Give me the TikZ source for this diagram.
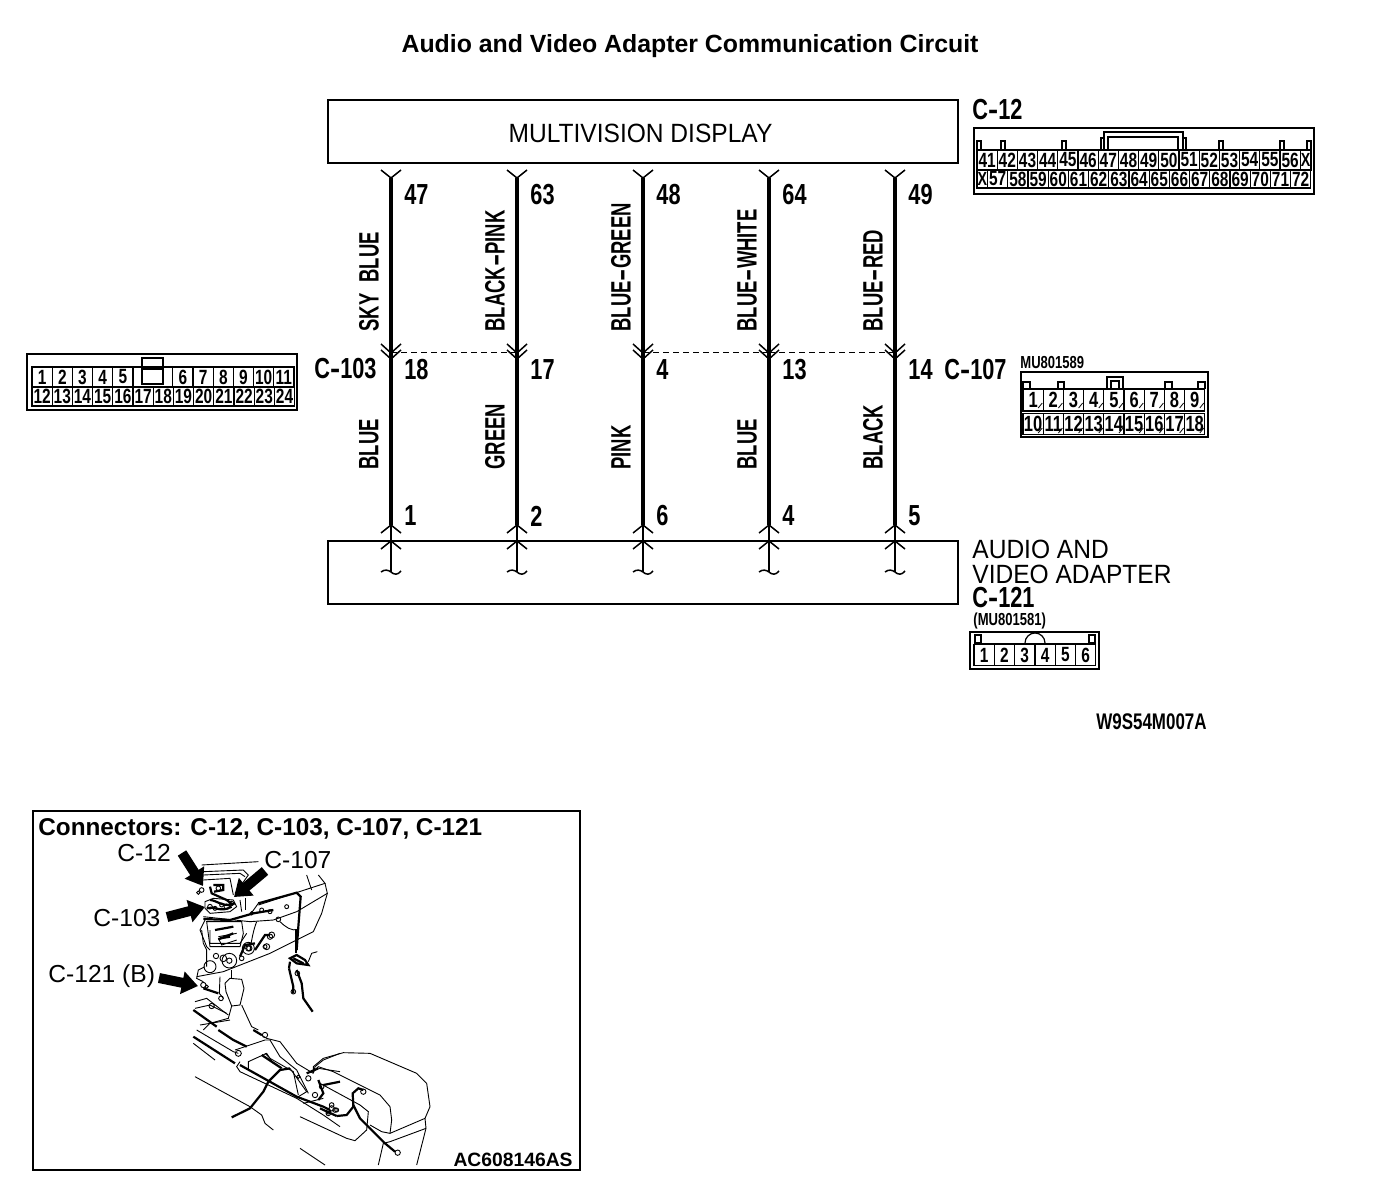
\documentclass[tikz,border=0pt]{standalone}
\usepackage{fontspec}
\usetikzlibrary{arrows.meta}
\setmainfont{Liberation Sans}
\newfontfamily\condb[FakeStretch=0.75]{Liberation Sans Bold}
\newfontfamily\condn[FakeStretch=0.66]{Liberation Sans Bold}
\newfontfamily\reg[FakeStretch=0.93]{Liberation Sans}
\newcommand{\dsh}{\scalebox{2}[1]{-}}
\newcommand{\cdsh}{\scalebox{1.4}[1]{-}}
\newcommand{\pinrow}[7]{% prefix, x0, ycentre, w, h, list, font
  \foreach \n [count=\i] in {#6}{
    \pgfmathsetmacro{\cx}{#2+(\i-0.5)*#4}
    \node[cellbox,minimum width=#4*0.5pt,minimum height=#5*0.5pt,font=#7] (#1-\n) at (\cx,#3) {\n};
  }}
\newcommand{\rings}[1]{\foreach \x/\y/\r in {#1}{\draw[art] (\x,\y) circle[radius=\r];}}
\tikzset{
  x=0.5pt,y=-0.5pt,
  cellbox/.style={draw,line width=.6pt,inner sep=0pt,outer sep=0pt},
  outerbox/.style={draw,line width=.8pt,inner sep=0pt,outer sep=0pt},
  unitbox/.style={draw,line width=1pt,inner sep=0pt,outer sep=0pt,minimum width=315pt,minimum height=31.5pt},
  wire/.style={line width=2pt},
  thin wire/.style={line width=.75pt},
  fork/.style={line width=.75pt},
  dashline/.style={line width=.4pt,dash pattern=on 3pt off 2pt},
  num/.style={anchor=west,inner sep=0pt,font=\condb\fontsize{14.5}{15}\selectfont},
  vlab/.style={anchor=west,rotate=90,inner sep=0pt,font=\condn\fontsize{14}{15}\selectfont},
  conn/.style={anchor=west,inner sep=0pt,font=\condb\fontsize{14.5}{15}\selectfont},
  tag/.style={anchor=west,inner sep=0pt,font=\condb\fontsize{8.7}{9}\selectfont},
  regl/.style={anchor=west,inner sep=0pt,font=\reg\fontsize{13.2}{14}\selectfont},
  ilab/.style={anchor=west,inner sep=0pt,font=\fontsize{12.3}{13}\selectfont},
  art/.style={line width=.45pt},
  artb/.style={line width=1.1pt},
  callout/.style={line width=5pt,-{Triangle[length=8pt,width=11pt]}},
}
\begin{document}
\begin{tikzpicture}
\useasboundingbox (0,0) rectangle (1376,1204);
\node[inner sep=0pt,font=\bfseries\fontsize{12.43}{13}\selectfont] (title) at (690,46) {Audio and Video Adapter Communication Circuit};
% Units
\node[unitbox] (display) at (643,131.5) {};
\node[inner sep=0pt,font=\reg\fontsize{13.2}{14}\selectfont] (displaytext) at (640.5,133) {MULTIVISION DISPLAY};
\node[unitbox] (adapter) at (643,572.5) {};
% Wires
\foreach \k/\x in {a/391,b/517,c/643,d/769,e/895}{
  \coordinate (\k top) at (\x,178);
  \coordinate (\k bot) at (\x,525);
  \coordinate (\k end) at (\x,572);
  \coordinate (\k mid) at (\x,352);
  \draw[wire] (\k top) -- (\k bot);
  \draw[thin wire] (\k bot) -- (\k end);
  \draw[fork] (\x-10,170) -- (\k top) -- (\x+10,170);
  \draw[fork] (\x-10,344) -- (\x,353) -- (\x+10,344);
  \draw[fork] (\x-10,350) -- (\x,359) -- (\x+10,350);
  \draw[fork] (\x-10,533) -- (\k bot) -- (\x+10,533);
  \draw[fork] (\x-10,549) -- (\x,541) -- (\x+10,549);
  \draw[fork] (\x-10,572) .. controls (\x-6,569) and (\x-3,570) .. (\k end) .. controls (\x+3,575) and (\x+7,575) .. (\x+10,571);
}
\draw[dashline] (amid) -- (bmid);
\draw[dashline] (cmid) -- (dmid);
\draw[dashline] (dmid) -- (emid);
% Pin numbers
\foreach \t/\x/\y in {47/404/195,63/530/195,48/656/195,64/782/195,49/908/195,
  18/404/370,17/530/370,4/656/370,13/782/370,14/908/370,
  1/404/516,2/530/516,6/656/516,4/782/516,5/908/516}{
  \node[num] (p\t-\x-\y) at (\x,\y) {\t};
}
% Wire colours
\foreach \t/\x/\y in {SKY\kern3pt{} BLUE/369/332,BLACK\dsh PINK/495/332,BLUE\dsh GREEN/621/332,BLUE\dsh WHITE/747/332,BLUE\dsh RED/873/332,
  BLUE/369/470,GREEN/495/470,PINK/621/470,BLUE/747/470,BLACK/873/470}{
  \node[vlab] (w\x-\y) at (\x,\y) {\t};
}
% Connector labels
\node[conn] (lc12) at (972,110) {C\cdsh 12};
\node[conn] (lc103) at (314,369) {C\cdsh 103};
\node[conn] (lc107) at (944,370) {C\cdsh 107};
\node[conn] (lc121) at (972,598) {C\cdsh 121};
\node[regl] (la1) at (972,549) {AUDIO AND};
\node[regl] (la2) at (972,574) {VIDEO ADAPTER};
\node[tag] (tmu1) at (1020,363) {MU801589};
\node[tag] (tmu2) at (973,621) {(MU801581)};
\node[anchor=west,inner sep=0pt,font=\condb\fontsize{11.3}{12}\selectfont] (wcode) at (1096,722) {W9S54M007A};
% C-12
\draw[outerbox] (974,128) rectangle (1314,194);
\pinrow{c12a}{977}{160}{20.2}{20}{41,42,43,44,45,46,47,48,49,50,51,52,53,54,55,56}{\condb\fontsize{10.3}{11}\selectfont}
\pinrow{c12b}{987.6}{179}{20.2}{18}{57,58,59,60,61,62,63,64,65,66,67,68,69,70,71,72}{\condb\fontsize{10.3}{11}\selectfont}
\node[cellbox,minimum width=5.4pt,minimum height=10pt,font=\condb\fontsize{9.5}{10}\selectfont] (c12x1) at (1305.6,160) {X};
\node[cellbox,minimum width=5.3pt,minimum height=9pt,font=\condb\fontsize{9.5}{10}\selectfont] (c12x2) at (982.3,179) {X};
\foreach \x in {977,1001,1062,1219,1280,1307}{\draw[cellbox] (\x,150) -- (\x,141) -- (\x+4,141) -- (\x+4,150);}
\draw[cellbox] (1104,150) -- (1104,132) -- (1183,132) -- (1183,150);
\draw[cellbox] (1108,150) -- (1108,137) -- (1178,137) -- (1178,150);
\draw[cellbox] (1101,150) -- (1101,138) -- (1104,138);
\draw[cellbox] (1183,138) -- (1186,138) -- (1186,150);
% C-103
\draw[outerbox] (27,354) rectangle (297,410);
\pinrow{c103a}{32}{377}{20.2}{20}{1,2,3,4,5}{\condb\fontsize{10.3}{11}\selectfont}
\pinrow{c103c}{172.8}{377}{20.2}{20}{6,7,8,9,10,11}{\condb\fontsize{10.3}{11}\selectfont}
\pinrow{c103b}{32}{396.5}{20.2}{19}{12,13,14,15,16,17,18,19,20,21,22,23,24}{\condb\fontsize{10.3}{11}\selectfont}
\draw[cellbox] (133,367) -- (173,367);
\draw[cellbox] (142,369) rectangle (163,384);
\draw[cellbox] (142,367) -- (142,358) -- (163,358) -- (163,367);
% C-107
\draw[outerbox] (1021,372) rectangle (1208,437);
\pinrow{c107a}{1023}{400}{20.2}{22}{1,2,3,4,5,6,7,8,9}{\condb\fontsize{11}{12}\selectfont}
\pinrow{c107b}{1023}{424}{20.2}{21}{10,11,12,13,14,15,16,17,18}{\condb\fontsize{11}{12}\selectfont}
\foreach \i in {1,...,9}{
  \pgfmathsetmacro{\xa}{1023+\i*20.2}
  \draw[cellbox,line width=.4pt] (\xa-5,408) -- (\xa-1,403);
  \draw[cellbox,line width=.4pt] (\xa-5,433) -- (\xa-1,428);
}
\foreach \x/\w in {1023/7,1058/6,1165/7,1198/7}{\draw[cellbox] (\x,389) -- (\x,382) -- (\x+\w,382) -- (\x+\w,389);}
\draw[cellbox] (1107,389) -- (1107,377) -- (1123,377) -- (1123,389);
\draw[cellbox] (1111,389) -- (1111,381) -- (1119,381) -- (1119,389);
% C-121
\draw[outerbox] (970,632) rectangle (1099,669);
\pinrow{c121}{974}{655}{20.3}{21}{1,2,3,4,5,6}{\condb\fontsize{10.3}{11}\selectfont}
\draw[line width=1pt] (975,643.5) -- (1095,643.5);
\draw[cellbox] (975,643) rectangle (981,635);
\draw[cellbox] (1089,643) rectangle (1095,635);
\draw[cellbox] (1025,643) arc[start angle=180,end angle=360,radius=10];
% Locator frame
\draw[line width=1.1pt] (33,811) rectangle (580,1170);
\node[anchor=west,inner sep=0pt,font=\bfseries\fontsize{12.15}{13}\selectfont] (chead) at (38,829) {Connectors: C-12, C-103, C-107, C-121};
\node[ilab] (i12) at (117,853) {C-12};
\node[ilab] (i107) at (264,860) {C-107};
\node[ilab] (i103) at (93,918) {C-103};
\node[ilab] (i121) at (48,976) {C-121 (B)};
\node[anchor=east,inner sep=0pt,font=\bfseries\fontsize{9.65}{10}\selectfont] (acode) at (573,1160) {AC608146AS};
% Illustration: upper panel
\begin{scope}[shift={(190,850)},x=0.16667pt,y=-0.16667pt]
\draw[art] (35,45) -- (205,35);
\draw[art] (40,65) -- (160,60) -- (175,75) -- (150,110) -- (135,130);
\draw[art] (40,75) -- (150,70) -- (165,80);
\draw[art] (40,90) -- (120,85) -- (130,135);
\draw[artb] (60,110) -- (65,130) -- (110,150) -- (130,165);
\draw[artb] (70,105) -- (100,105) -- (100,120) -- (72,125);
\draw[art] (45,155) -- (70,145) -- (130,150) -- (140,170) -- (120,185) -- (60,190) -- (45,175) -- cycle;
\draw[artb] (50,175) .. controls (70,165) and (90,190) .. (125,170);
\draw[artb] (60,150) .. controls (80,150) and (100,175) .. (135,160);
\draw[artb] (205,160) -- (320,128) -- (332,140) -- (325,230) -- (320,300);
\draw[art] (205,165) -- (405,100) -- (385,75);
\draw[art] (350,75) -- (365,120);
\draw[art] (405,100) -- (412,130) -- (320,185) -- (250,210) -- (180,215) -- (40,200);
\draw[artb] (40,207) -- (120,210) -- (190,190) -- (250,180);
\draw[art] (412,130) -- (395,190) -- (370,245);
\draw[art] (200,215) .. controls (190,240) and (185,270) .. (180,300);
\draw[art] (270,215) .. controls (285,230) and (305,245) .. (325,238);
\draw[art] (50,215) -- (155,215) -- (160,250) -- (150,290) -- (60,290) -- cycle;
\draw[artb] (75,240) -- (130,230);
\draw[artb] (85,268) -- (130,250);
\draw[art] (85,265) -- (95,285) -- (140,270);
\draw[art] (45,210) -- (30,240) -- (50,290) -- (60,300);
\draw[art] (150,150) -- (155,185);
\draw[art] (165,145) -- (165,180);
\draw[art] (205,160) -- (180,195);
\rings{35/120/7,25/128/5,85/115/7,60/170/7,110/170/8,125/160/6,95/165/6,75/175/6,290/170/6,265/208/7,240/260/8,225/290/6,175/295/8,215/180/6,240/185/6,185/190/5}
\end{scope}
% Illustration: middle panel
\begin{scope}[shift={(190,930)},x=0.16667pt,y=-0.16667pt]
\draw[art] (60,0) -- (60,40) -- (150,40) -- (170,10);
\draw[art] (85,20) -- (140,10);
\draw[artb] (90,25) -- (120,20);
\draw[art] (35,0) -- (40,40) -- (50,60) -- (50,110);
\draw[art] (370,5) -- (240,70) -- (100,125) -- (20,140);
\rings{175/55/18,178/55/8,118/92/22,118/92/8,60/110/18,78/78/8,245/15/9,230/50/9,155/85/7,100/85/10}
\draw[artb] (150,80) -- (165,45) -- (195,40);
\draw[artb] (195,60) -- (225,15) -- (240,15);
\draw[art] (45,110) -- (25,120) -- (20,145) -- (40,155);
\draw[art] (90,140) -- (88,190) -- (100,205);
\draw[art] (125,120) -- (125,145);
\draw[art] (105,160) -- (120,145) -- (155,148) -- (162,175) -- (150,225) -- (125,228) -- (108,185) -- cycle;
\draw[art] (155,225) -- (185,290) -- (205,300);
\draw[art] (125,228) -- (115,265) -- (60,280);
\draw[art] (120,270) -- (30,285);
\draw[artb] (318,0) -- (318,70);
\draw[artb] (300,85) -- (320,75) -- (345,90) -- (355,105) -- (320,100) -- cycle;
\draw[artb] (310,85) -- (340,100);
\draw[art] (355,95) -- (365,70) -- (382,65);
\draw[artb] (297,115) -- (310,170) -- (310,190);
\draw[artb] (300,95) -- (297,115);
\draw[artb] (320,120) -- (335,160) -- (340,205) -- (368,245);
\rings{310/185/7,322/130/7,40/165/8,93/205/7,65/228/8,50/170/5}
\draw[artb] (40,175) -- (85,190);
\draw[art] (15,215) -- (50,205) -- (95,240) -- (115,255);
\draw[art] (15,235) -- (60,225) -- (110,250);
\draw[artb] (10,240) -- (80,290);
\draw[art] (40,300) -- (60,280);
\end{scope}
% Illustration: console panel
\begin{scope}[shift={(190,1030)},x=0.16667pt,y=-0.16667pt]
\draw[art] (20,0) -- (130,65) -- (145,70);
\draw[artb] (85,0) -- (130,30) -- (170,50);
\draw[art] (135,60) -- (225,30) -- (240,30);
\draw[art] (190,0) -- (230,25) -- (270,35) -- (320,100) -- (370,130);
\draw[artb] (190,0) -- (215,15);
\draw[artb] (10,20) -- (135,100);
\draw[art] (10,40) -- (75,90);
\draw[art] (150,95) -- (140,110) -- (150,125) -- (320,205) -- (400,255) -- (450,290);
\draw[artb] (150,105) -- (320,200) -- (400,230) -- (420,240);
\draw[art] (175,120) -- (175,95) -- (230,70) -- (250,100);
\draw[artb] (215,75) -- (275,115);
\draw[art] (225,70) -- (240,85) -- (310,125) -- (325,195);
\draw[art] (300,115) -- (350,185) -- (325,200);
\draw[art] (240,30) -- (270,80) -- (320,120) -- (355,190);
\draw[art] (15,140) -- (180,230) -- (215,255) -- (225,280) -- (250,300);
\draw[artb] (125,262) -- (180,235) -- (220,185) -- (235,155) -- (270,120) -- (300,115);
\draw[art] (370,130) -- (375,110) -- (400,90) -- (450,70);
\draw[art] (385,115) -- (450,125);
\rings{145/70/9,225/15/8,355/145/8,375/195/8,395/170/7,425/225/7,415/245/7,435/240/7,325/140/5}
\draw[artb] (385,150) -- (400,190) -- (385,210);
\draw[artb] (400,165) -- (450,155);
\draw[artb] (350,130) -- (385,115);
\draw[art] (340,220) -- (400,205);
\end{scope}
% Illustration: arm rest panel
\begin{scope}[shift={(300,1040)},x=0.16667pt,y=-0.16667pt]
\draw[art] (40,95) -- (40,80) -- (70,55) -- (130,38) -- (210,40) -- (350,100) -- (380,130) -- (390,200) -- (375,235) -- (270,280) -- (245,275) -- (210,255);
\draw[art] (40,95) -- (55,80) -- (100,95) -- (240,165) -- (270,200) -- (275,240) -- (270,280);
\draw[art] (60,130) -- (180,195) -- (205,215) -- (200,270) -- (165,302) -- (140,295) -- (0,230);
\draw[art] (375,235) -- (378,265) -- (350,375);
\draw[art] (378,265) -- (270,305) -- (250,310) -- (235,375);
\draw[artb] (110,228) -- (140,225) -- (160,200) -- (158,160) -- (175,145) -- (190,150);
\draw[artb] (60,205) -- (110,228);
\draw[artb] (160,195) -- (180,235) -- (205,260) -- (255,310) -- (285,335);
\rings{293/338/8,190/155/8,95/205/8,85/220/7,110/210/6}
\draw[art] (0,325) -- (75,375);
\end{scope}
% Call-out arrows
\coordinate (a12s) at (182,853);\coordinate (a12t) at (203,886);
\coordinate (a107s) at (265,871);\coordinate (a107t) at (234,897);
\coordinate (a103s) at (167,917);\coordinate (a103t) at (205,907);
\coordinate (a121s) at (159,978);\coordinate (a121t) at (198,986);
\draw[callout] (a12s) -- (a12t);
\draw[callout] (a107s) -- (a107t);
\draw[callout] (a103s) -- (a103t);
\draw[callout] (a121s) -- (a121t);
\end{tikzpicture}
\end{document}
